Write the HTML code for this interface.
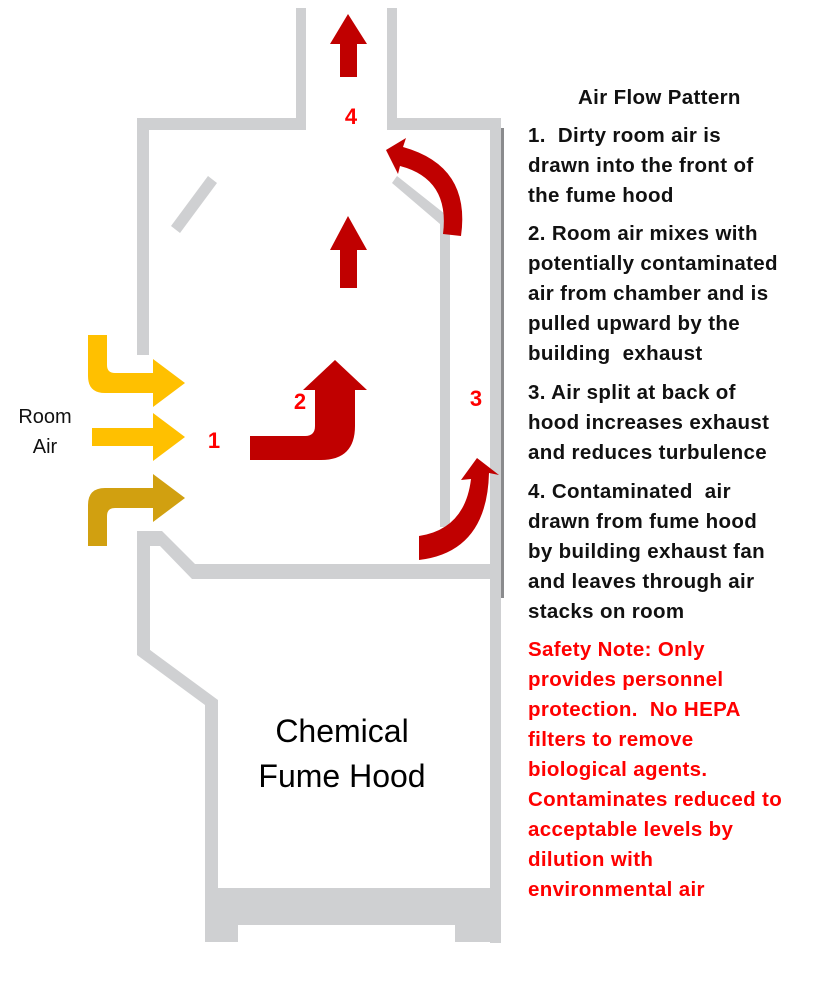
<!DOCTYPE html>
<html><head><meta charset="utf-8"><style>
html,body{margin:0;padding:0;background:#fff;}
body{width:813px;height:1008px;position:relative;overflow:hidden;font-family:"Liberation Sans",sans-serif;}
.t{position:absolute;left:528px;font-weight:bold;font-size:20.5px;letter-spacing:0.35px;line-height:30px;color:#111;white-space:nowrap;}
</style></head><body>
<svg width="813" height="1008" style="position:absolute;left:0;top:0">
<g fill="#cfd0d2">
 <rect x="296" y="8" width="10" height="120"/>
 <rect x="387" y="8" width="10" height="120"/>
 <rect x="137" y="118" width="169" height="12"/>
 <rect x="387" y="118" width="113" height="12"/>
 <rect x="137" y="118" width="12" height="237"/>
 <rect x="490" y="118" width="11" height="825"/>
 <rect x="440" y="222" width="10" height="305"/>
 <polygon points="392,183 397,176 450,218 450,232 440,232 440,224"/>
 <polygon points="171,226 208,176 217,183 180,233"/>
 <polygon points="137,531 162,531 195,564 500,564 500,579 192,579 160,546 150,546 150,655 205,700 205,940 218,940 218,888 490,888 490,940 500,940 500,579 490,579 490,888 218,888 218,705 150,650 150,546 137,546"/>
 <rect x="205" y="888" width="295" height="37"/>
 <rect x="205" y="920" width="33" height="22"/>
 <rect x="455" y="920" width="45" height="22"/>
 <polygon points="137,546 150,546 150,650 218,700 218,712 205,712 205,705 137,655"/>
</g>
<rect x="501" y="128" width="3" height="470" fill="#8a8b8d"/>
<g fill="#FFC000">
 <path d="M88,335 h19 v30 q0,8 8,8 h38 v-14 l32,24 l-32,24 v-14 h-48 q-17,0 -17,-17 z"/>
 <polygon points="92,428 153,428 153,413 185,437 153,461 153,446 92,446"/>
</g>
<path fill="#D1A010" d="M88,546 h19 v-30 q0,-8 8,-8 h38 v14 l32,-24 l-32,-24 v14 h-48 q-17,0 -17,17 z"/>
<g fill="#C00000">
 <polygon points="340,77 357,77 357,44 367,44 348,14 330,44 340,44"/>
 <polygon points="340,288 357,288 357,250 367,250 348,216 330,250 340,250"/>
 <path d="M250,436 h55 q10,0 10,-10 v-36 h-12 l32,-30 l32,30 h-12 v36 q0,34 -34,34 h-71 z"/>
 <path d="M461,236 q10,-70 -58,-89 l3,-9 l-20,12 l12,24 l2,-8 q50,13 43,68 z"/>
 <path d="M419,560 q68,-8 70,-87 l10,2 l-22,-17 l-16,22 l10,-1 q-6,50 -52,57 z"/>
</g>
<g font-family="Liberation Sans,sans-serif" font-weight="bold" font-size="22" fill="#ff0000" text-anchor="middle">
 <text x="214" y="448">1</text>
 <text x="300" y="409">2</text>
 <text x="476" y="406">3</text>
 <text x="351" y="124">4</text>
</g>
<g font-family="Liberation Sans,sans-serif" font-size="20" fill="#111" text-anchor="middle">
 <text x="45" y="423">Room</text>
 <text x="45" y="453">Air</text>
</g>
<g font-family="Liberation Sans,sans-serif" font-size="32" fill="#000" text-anchor="middle">
 <text x="342" y="742">Chemical</text>
 <text x="342" y="787">Fume Hood</text>
</g>
</svg>
<div class="t" style="top:83px;left:578px">Air Flow Pattern</div>
<div class="t" style="top:121px">1.&nbsp; Dirty room air is<br>drawn into the front of<br>the fume hood</div>
<div class="t" style="top:219px">2. Room air mixes with<br>potentially contaminated<br>air from chamber and is<br>pulled upward by the<br>building&nbsp; exhaust</div>
<div class="t" style="top:378px">3. Air split at back of<br>hood increases exhaust<br>and reduces turbulence</div>
<div class="t" style="top:477px">4. Contaminated&nbsp; air<br>drawn from fume hood<br>by building exhaust fan<br>and leaves through air<br>stacks on room</div>
<div class="t" style="top:635px;color:#ff0000">Safety Note: Only<br>provides personnel<br>protection.&nbsp; No HEPA<br>filters to remove<br>biological agents.<br>Contaminates reduced to<br>acceptable levels by<br>dilution with<br>environmental air</div>
</body></html>
